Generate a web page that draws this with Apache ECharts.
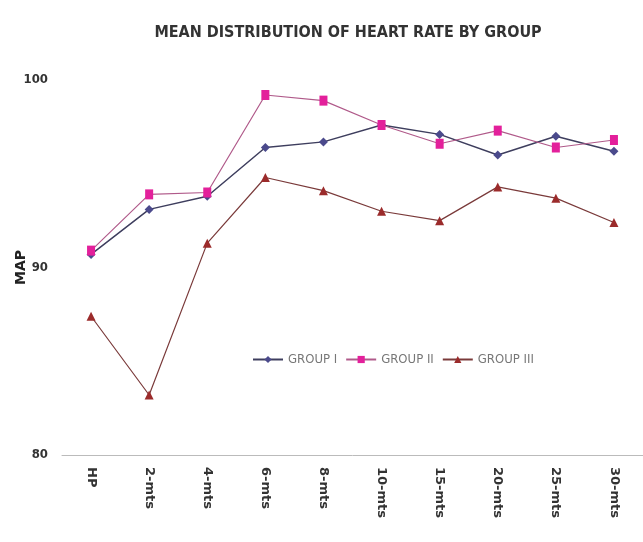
<!DOCTYPE html>
<html><head><meta charset="utf-8">
<script src="https://cdn.jsdelivr.net/npm/echarts@6/dist/echarts.min.js"></script>
<style>html,body{margin:0;padding:0;background:#fff}#c{width:643px;height:542px}</style>
</head><body><div id="c"></div>
<script>
const categories = ['HP','2-mts','4-mts','6-mts','8-mts','10-mts','15-mts','20-mts','25-mts','30-mts'];
const group1 = [90.7, 93.1, 93.8, 96.4, 96.7, 97.6, 97.1, 96.0, 97.0, 96.2];
const group2 = [90.9, 93.9, 94.0, 99.2, 98.9, 97.6, 96.6, 97.3, 96.4, 96.8];
const group3 = [87.4, 83.2, 91.3, 94.8, 94.1, 93.0, 92.5, 94.3, 93.7, 92.4];
const yTicks = [80, 90, 100];
const seriesNames = ['GROUP I','GROUP II','GROUP III'];

const narrow = "'Liberation Sans Narrow','DejaVu Sans Condensed',sans-serif";
const chart = echarts.init(document.getElementById('c'));
chart.setOption({
  animation: false,
  backgroundColor: '#fff',
  title: {
    text: 'MEAN DISTRIBUTION OF HEART RATE BY GROUP',
    left: 343, top: 20, textAlign: 'center',
    textStyle: {fontFamily: narrow, fontSize: 16, fontWeight: 'bold', color: '#333'}
  },
  legend: {
    data: seriesNames,
    left: 247, top: 348,
    itemWidth: 30, itemHeight: 9, itemGap: 8,
    textStyle: {fontFamily: narrow, fontSize: 13, color: '#777'}
  },
  grid: {left: 62, right: 0, top: 80, bottom: 87, containLabel: false, outerBoundsMode: 'none'},
  xAxis: {
    type: 'category', data: categories, boundaryGap: true,
    axisLine: {lineStyle: {color: '#bbb', width: 1}},
    axisTick: {show: false},
    axisLabel: {rotate: -90, margin: 12, fontFamily: "'DejaVu Sans',sans-serif", fontSize: 13, fontWeight: 'bold', color: '#333'}
  },
  yAxis: {
    type: 'value', min: yTicks[0], max: yTicks[yTicks.length-1], interval: 10,
    name: 'MAP', nameLocation: 'middle', nameGap: 34, nameRotate: 90, nameMoveOverlap: false,
    nameTextStyle: {fontFamily: "'DejaVu Sans',sans-serif", fontSize: 14, fontWeight: 'bold', color: '#222'},
    axisLine: {show: false}, axisTick: {show: false}, splitLine: {show: false},
    axisLabel: {fontFamily: narrow, fontSize: 13, fontWeight: 'bold', color: '#333', margin: 14}
  },
  series: [
    {name: seriesNames[0], type: 'line', data: group1, symbol: 'diamond', symbolSize: 9,
     itemStyle: {color: '#4b4a8c'}, lineStyle: {color: '#3e3e5e', width: 1.5}},
    {name: seriesNames[1], type: 'line', data: group2, symbol: 'rect', symbolSize: [8,10],
     itemStyle: {color: '#e3209b'}, lineStyle: {color: '#b05a8a', width: 1.2}},
    {name: seriesNames[2], type: 'line', data: group3, symbol: 'triangle', symbolSize: 9,
     itemStyle: {color: '#9b2b2b'}, lineStyle: {color: '#7a3a3a', width: 1.2}}
  ]
});
</script></body></html>
